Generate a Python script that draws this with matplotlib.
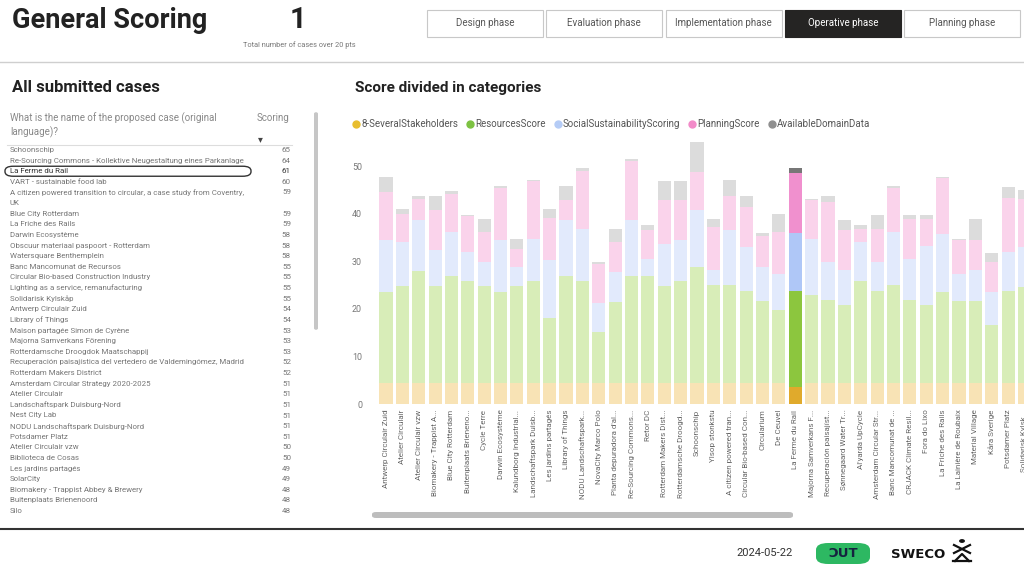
import matplotlib
matplotlib.use("Agg")
import matplotlib.pyplot as plt
from matplotlib.patches import Rectangle, FancyBboxPatch, Circle
from matplotlib.lines import Line2D
import numpy as np

# ---- data ----
phases = ["Design phase", "Evaluation phase", "Implementation phase", "Operative phase", "Planning phase"]
selected_phase = "Operative phase"

case_names = [
    "Schoonschip",
    "Re-Sourcing Commons - Kollektive Neugestaltung eines Parkanlage",
    "La Ferme du Rail",
    "VART - sustainable food lab",
    "A citizen powered transition to circular, a case study from Coventry,\nUK",
    "Blue City Rotterdam",
    "La Friche des Rails",
    "Darwin Ecosystème",
    "Obscuur materiaal paspoort - Rotterdam",
    "Watersquare Benthemplein",
    "Banc Mancomunat de Recursos",
    "Circular Bio-based Construction Industry",
    "Lighting as a service, remanufacturing",
    "Solidarisk Kylskåp",
    "Antwerp Circulair Zuid",
    "Library of Things",
    "Maison partagée Simon de Cyrène",
    "Majorna Samverkans Förening",
    "Rotterdamsche Droogdok Maatschappij",
    "Recuperación paisajística del vertedero de Valdemingómez, Madrid",
    "Rotterdam Makers District",
    "Amsterdam Circular Strategy 2020-2025",
    "Atelier Circulair",
    "Landschaftspark Duisburg-Nord",
    "Nest City Lab",
    "NODU Landschaftspark Duisburg-Nord",
    "Potsdamer Platz",
    "Atelier Circulair vzw",
    "Biblioteca de Cosas",
    "Les jardins partagés",
    "SolarCity",
    "Biomakery - Trappist Abbey & Brewery",
    "Buitenplaats Brienenoord",
    "Silo",
]
case_scores = [65, 64, 61, 60, 59, 59, 59, 58, 58, 58, 55, 55, 55, 55, 54, 54, 53, 53, 53,
               52, 52, 51, 51, 51, 51, 51, 51, 50, 50, 49, 49, 48, 48, 48]
selected_case = "La Ferme du Rail"

bar_labels = [
    "Antwerp Circulair Zuid", "Atelier Circulair", "Atelier Circulair vzw", "Biomakery - Trappist A...",
    "Blue City Rotterdam", "Buitenplaats Brienenо...", "Cycle Terre", "Darwin Ecosystème",
    "Kalundborg Industrial...", "Landschaftspark Duisb...", "Les jardins partagés", "Library of Things",
    "NODU Landschaftspark...", "NovaCity Marco Polo", "Planta depuradora d'al...", "Re-Sourcing Commons...",
    "Retor DC", "Rotterdam Makers Dist...", "Rotterdamsche Droogd...", "Schoonschip",
    "Ylsop stonkstu", "A citizen powered tran...", "Circular Bio-based Con...", "Circularium",
    "De Ceuvel", "La Ferme du Rail", "Majorna Samverkans F...", "Recuperación paisajíst...",
    "Sønnegaard Water Tr...", "Al'yarda UpCycle", "Amsterdam Circular Str...", "Banc Mancomunat de ...",
    "CRJACK Climate Resil...", "Fora do Lixo", "La Friche des Rails", "La Lainière de Roubaix",
    "Material Village", "Kåra Sverige", "Potsdamer Platz", "Solidarisk Kylsk...",
]
stakeholders = [4.5, 4.5, 4.5, 4.5, 4.5, 4.5, 4.5, 4.5, 4.5, 4.5, 4.5, 4.5, 4.5, 4.5, 4.5, 4.5, 4.5, 4.5, 4.5, 4.5,
                4.5, 4.5, 4.5, 4.5, 4.5, 3.5, 4.5, 4.5, 4.5, 4.5, 4.5, 4.5, 4.5, 4.5, 4.5, 4.5, 4.5, 4.5, 4.5, 4.5]
resources = [19.1, 20.3, 23.4, 20.3, 22.4, 21.3, 20.3, 19.1, 20.3, 21.3, 13.5, 22.4, 21.3, 10.6, 17.0, 22.4,
             22.4, 20.3, 21.3, 24.3, 20.4, 20.4, 19.3, 17.2, 15.3, 20.3, 18.4, 17.4, 16.4, 21.3, 19.3, 20.4,
             17.4, 16.3, 19.1, 17.2, 17.2, 12.1, 19.3, 20.0]
social = [10.8, 9.2, 10.7, 7.5, 9.2, 6.1, 5.1, 10.8, 4.0, 8.9, 12.2, 11.7, 11.0, 6.1, 6.2, 11.7,
          3.6, 8.9, 8.6, 11.9, 3.2, 11.6, 9.2, 7.1, 7.5, 12.2, 11.8, 7.9, 7.2, 8.2, 6.0, 11.2,
          8.6, 12.5, 12.2, 5.6, 6.4, 6.9, 8.1, 8.5]
planning = [10.1, 6.0, 4.5, 8.4, 8.1, 7.6, 6.2, 10.9, 3.8, 12.1, 8.9, 4.2, 12.2, 8.2, 6.3, 12.4,
            6.0, 9.1, 8.4, 8.0, 9.1, 7.3, 8.4, 6.6, 8.8, 12.6, 8.1, 12.6, 8.4, 2.8, 7.0, 9.3,
            8.4, 5.6, 11.6, 7.1, 6.3, 6.3, 11.4, 10.0]
domain = [3.2, 1.0, 0.5, 3.1, 0.5, 0.3, 2.7, 0.5, 2.1, 0.3, 1.8, 2.9, 0.6, 0.4, 2.8, 0.5,
          1.2, 4.0, 4.0, 6.3, 1.7, 3.2, 2.4, 0.5, 3.9, 1.0, 0.3, 1.2, 2.2, 0.9, 3.0, 0.3,
          0.9, 0.9, 0.3, 0.3, 4.4, 1.9, 2.3, 1.9]
highlight = "La Ferme du Rail"

series_names = ["8-SeveralStakeholders", "ResourcesScore", "SocialSustainabilityScoring",
                "PlanningScore", "AvailableDomainData"]
legend_colors = ["#E8BE2E", "#7DC242", "#B5CCF6", "#F28BC9", "#8F8F8F"]
full_colors = ["#E0AA2C", "#8CC63E", "#AFC7F7", "#F090CE", "#777777"]
faded_colors = ["#F8E3B5", "#D8EDB8", "#E2EAFC", "#FAD3EB", "#DCDCDC"]

plt.rcParams["font.family"] = ["Roboto", "DejaVu Sans"]

W, H = 1024, 565
fig = plt.figure(figsize=(W / 100, H / 100), dpi=100)
fig.patch.set_facecolor("white")


def fx(x):
    return x / W


def fy(y):
    return 1 - y / H


# ---- header ----
fig.text(fx(12), fy(21), "General Scoring", fontsize=19.5, fontweight="bold", color="#222222", va="center")
fig.text(fx(298), fy(20), "1", fontsize=21, fontweight="bold", color="#222222", ha="center", va="center")
fig.text(fx(299), fy(45), "Total number of cases over 20 pts", fontsize=5.3, color="#777777", ha="center",
         va="center")

for i, p in enumerate(phases):
    x0 = 427 + i * 119.3
    sel = p == selected_phase
    fig.add_artist(Rectangle((fx(x0), fy(37)), 116 / W, 27 / H, transform=fig.transFigure,
                             facecolor="#252423" if sel else "white",
                             edgecolor="#252423" if sel else "#C8C8C8", lw=0.8))
    fig.text(fx(x0 + 58), fy(23.5), p, fontsize=7, ha="center", va="center",
             color="white" if sel else "#555555")

fig.add_artist(Line2D([0, 1], [fy(62), fy(62)], transform=fig.transFigure, color="#CFCFCF", lw=1))
fig.add_artist(Line2D([0, 1], [fy(529), fy(529)], transform=fig.transFigure, color="#333333", lw=1.5))

# ---- left table ----
fig.text(fx(12), fy(88), "All submitted cases", fontsize=12, fontweight="bold", color="#222222", va="center")
fig.text(fx(10), fy(125), "What is the name of the proposed case (original\nlanguage)?", fontsize=7,
         color="#888888", va="center", linespacing=1.3)
fig.text(fx(257), fy(118), "Scoring", fontsize=7, color="#888888", va="center")
fig.text(fx(260), fy(139), "\u25BE", fontsize=7, color="#444444", ha="center", va="center", family="DejaVu Sans")
fig.add_artist(Line2D([fx(7), fx(292)], [fy(145), fy(145)], transform=fig.transFigure, color="#DDDDDD", lw=0.8))

row_h = 10.62
row = 0
for name, score in zip(case_names, case_scores):
    y = 150 + row * row_h
    lines = name.split("\n")
    sel = name == selected_case
    col = "#333333" if sel else "#777777"
    if sel:
        fig.add_artist(FancyBboxPatch((fx(5), fy(y + 5)), 246 / W, 10 / H, transform=fig.transFigure,
                                      boxstyle="round,pad=0,rounding_size=0.008", facecolor="none",
                                      edgecolor="#333333", lw=1))
    for k, ln in enumerate(lines):
        fig.text(fx(10), fy(y + k * row_h), ln, fontsize=5.7, color=col, va="center")
    fig.text(fx(291), fy(y), str(score), fontsize=5.8, color=col, ha="right", va="center")
    row += len(lines)

fig.add_artist(FancyBboxPatch((fx(314), fy(330)), 4 / W, 218 / H, transform=fig.transFigure,
                              boxstyle="round,pad=0,rounding_size=0.003", facecolor="#C6C6C6", edgecolor="none"))

# ---- stacked bar chart ----
fig.text(fx(355), fy(88), "Score divided in categories", fontsize=11, fontweight="bold", color="#222222",
         va="center")

ax = fig.add_axes([fx(374.5), fy(404), (1040 - 374.5) / W, 271.3 / H])
x = np.arange(len(bar_labels))
series = [stakeholders, resources, social, planning, domain]
bottom = np.zeros(len(bar_labels))
for vals, fc, dc in zip(series, full_colors, faded_colors):
    cols = [fc if lbl == highlight else dc for lbl in bar_labels]
    ax.bar(x, vals, bottom=bottom, width=0.8, color=cols, edgecolor="none")
    bottom += np.array(vals)

ax.set_xlim(-0.7, 39.95)
ax.set_ylim(0, 57)
ax.set_yticks([0, 10, 20, 30, 40, 50])
ax.set_xticks(x)
ax.set_xticklabels(bar_labels, rotation=90, fontsize=5.8, color="#666666")
ax.tick_params(axis="x", length=0, pad=4)
ax.tick_params(axis="y", length=0, pad=9, labelsize=6.4, labelcolor="#777777")
for s in ax.spines.values():
    s.set_visible(False)

handles = [Line2D([], [], marker="o", linestyle="none", markersize=5, markerfacecolor=c, markeredgecolor=c)
           for c in legend_colors]
fig.legend(handles, series_names, loc="center left", bbox_to_anchor=(fx(352), fy(124)), ncol=5,
           frameon=False, fontsize=7, handletextpad=0.05, columnspacing=0.8, handlelength=0.9,
           labelcolor="#555555", borderpad=0, borderaxespad=0)

# horizontal scroll bar
fig.add_artist(FancyBboxPatch((fx(372), fy(518)), 421 / W, 6 / H, transform=fig.transFigure,
                              boxstyle="round,pad=0,rounding_size=0.004", facecolor="#BDBDBD", edgecolor="none"))

# ---- footer ----
fig.text(fx(765), fy(553), "2024-05-22", fontsize=8, color="#333333", ha="center", va="center")
fig.add_artist(FancyBboxPatch((fx(816), fy(564)), 54 / W, 21 / H, transform=fig.transFigure,
                              boxstyle="round,pad=0,rounding_size=0.012", facecolor="#2DB862", edgecolor="none"))
fig.text(fx(843), fy(553.5), "\u0186UT", fontsize=9.5, fontweight="bold", color="#15233F", ha="center",
         va="center", family="DejaVu Sans")
fig.text(fx(918), fy(554), "SWECO", fontsize=9.5, fontweight="bold", color="#111111", ha="center", va="center",
         family="DejaVu Sans")
fig.add_artist(Circle((fx(962), fy(541)), 2.2 / W, transform=fig.transFigure, color="#111111"))
fig.add_artist(Line2D([fx(954), fx(970)], [fy(545), fy(553)], transform=fig.transFigure, color="#111111", lw=1.6))
fig.add_artist(Line2D([fx(954), fx(970)], [fy(553), fy(545)], transform=fig.transFigure, color="#111111", lw=1.6))
fig.add_artist(Line2D([fx(953), fx(971)], [fy(561), fy(561)], transform=fig.transFigure, color="#111111", lw=1.6))
fig.add_artist(Line2D([fx(955), fx(962), fx(969)], [fy(561), fy(554), fy(561)], transform=fig.transFigure,
                      color="#111111", lw=1.6))

fig.savefig("out.png", dpi=100)
